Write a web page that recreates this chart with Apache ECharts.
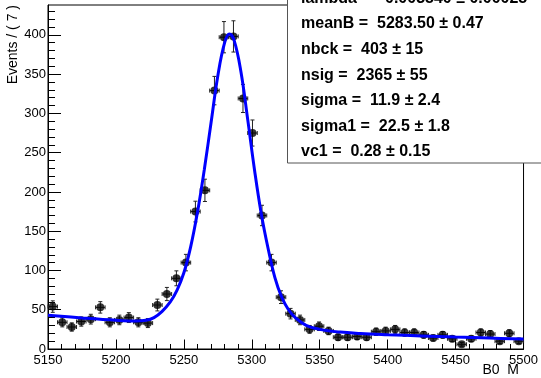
<!DOCTYPE html>
<html><head><meta charset="utf-8">
<script src="https://cdn.jsdelivr.net/npm/echarts@6/dist/echarts.min.js"></script>
<style>html,body{margin:0;padding:0;background:#fff}#c{width:541px;height:378px}</style>
</head><body><div id="c"></div>
<script>
// Bin centres (B0 M), bin width 7
const binCenters = [5153.5, 5160.5, 5167.5, 5174.5, 5181.5, 5188.5, 5195.5, 5202.5, 5209.5, 5216.5,
  5223.5, 5230.5, 5237.5, 5244.5, 5251.5, 5258.5, 5265.5, 5272.5, 5279.5, 5286.5,
  5293.5, 5300.5, 5307.5, 5314.5, 5321.5, 5328.5, 5335.5, 5342.5, 5349.5, 5356.5,
  5363.5, 5370.5, 5377.5, 5384.5, 5391.5, 5398.5, 5405.5, 5412.5, 5419.5, 5426.5,
  5433.5, 5440.5, 5447.5, 5454.5, 5461.5, 5468.5, 5475.5, 5482.5, 5489.5, 5496.5];
const counts = [54, 34, 28, 35, 38, 53, 34, 37, 40, 34,
  33, 56, 70, 90, 110, 175, 202, 329, 397, 398,
  319, 275, 170, 110, 66, 45, 37, 25, 29, 23,
  15, 15, 16, 15, 22, 23, 25, 21, 21, 18,
  14, 18, 13, 6, 13, 21, 19, 10, 20, 10];
const errors = [7.3, 5.8, 5.3, 5.9, 6.2, 7.3, 5.8, 6.1, 6.3, 5.8,
  5.7, 7.5, 8.4, 9.5, 10.5, 13.2, 14.2, 18.1, 19.9, 19.9,
  17.9, 16.6, 13.0, 10.5, 8.1, 6.7, 6.1, 5.0, 5.4, 4.8,
  3.9, 3.9, 4.0, 3.9, 4.7, 4.8, 5.0, 4.6, 4.6, 4.2,
  3.7, 4.2, 3.6, 2.4, 3.6, 4.6, 4.4, 3.2, 4.5, 3.2];
const binHalfWidth = 3.5;

// Fit curve
const curveX = [5150, 5175, 5200, 5215, 5222, 5228, 5234, 5240, 5245, 5250, 5255, 5260, 5265, 5270, 5275, 5280, 5283.5,
  5287, 5292, 5297, 5302, 5307, 5312, 5317, 5322, 5327, 5332, 5340, 5350, 5365, 5380, 5400, 5425, 5450, 5475, 5500];
const curveY = [43, 39.5, 36.5, 35.5, 36.5, 40, 48, 60, 75, 97, 130, 174, 228, 288, 348, 390, 401,
  393, 353, 292, 228, 172, 128, 91, 66, 50, 40, 30, 25, 21.5, 19.8, 18.3, 16.7, 15.2, 13.9, 12.6];

const xTicks = [5150, 5200, 5250, 5300, 5350, 5400, 5450, 5500];
const yTicks = [0, 50, 100, 150, 200, 250, 300, 350, 400];

const statLines = [
  'lambda =  -0.003540 \u00b1 0.00025',
  'meanB =  5283.50 \u00b1 0.47',
  'nbck =  403 \u00b1 15',
  'nsig =  2365 \u00b1 55',
  'sigma =  11.9 \u00b1 2.4',
  'sigma1 =  22.5 \u00b1 1.8',
  'vc1 =  0.28 \u00b1 0.15'
];

const FONT = '"Liberation Sans", Arial, Helvetica, sans-serif';
const pointData = binCenters.map((x, i) => [x, counts[i], errors[i]]);
const curveData = curveX.map((x, i) => [x, curveY[i]]);

const chart = echarts.init(document.getElementById('c'), null, {renderer: 'canvas'});

const statGraphics = [{
  type: 'rect', z: 100,
  shape: {x: 287.5, y: -40, width: 300, height: 203},
  style: {fill: '#fff', stroke: '#555', lineWidth: 1}
}];
statLines.forEach((t, i) => {
  statGraphics.push({
    type: 'text', z: 101, x: 301, y: -1.6 + i * 25.6,
    style: {text: t, fill: '#000', font: 'bold 16px ' + FONT, textAlign: 'left', textVerticalAlign: 'middle'}
  });
});

chart.setOption({
  animation: false,
  backgroundColor: '#fff',
  grid: {left: 48, right: 16, top: 5, bottom: 29, show: true, borderColor: '#000', borderWidth: 1, containLabel: false},
  xAxis: {
    type: 'value', min: 5150, max: 5500, interval: 50,
    axisLine: {show: true, lineStyle: {color: '#000', width: 1}},
    axisTick: {show: true, inside: true, length: 9.5, lineStyle: {color: '#000'}, customValues: xTicks},
    minorTick: {show: true, splitNumber: 5, length: 5, lineStyle: {color: '#000'}},
    axisLabel: {color: '#000', fontSize: 13, fontFamily: FONT, margin: 5, customValues: xTicks,
      formatter: v => String(v)},
    splitLine: {show: false}, minorSplitLine: {show: false}
  },
  yAxis: {
    type: 'value', min: 0, max: 438, interval: 50,
    axisLine: {show: true, lineStyle: {color: '#000', width: 1}},
    axisTick: {show: true, inside: true, length: 13, lineStyle: {color: '#000'}, customValues: yTicks},
    minorTick: {show: true, splitNumber: 5, length: 7, lineStyle: {color: '#000'}},
    axisLabel: {color: '#000', fontSize: 13, fontFamily: FONT, margin: 2, customValues: yTicks,
      formatter: v => String(v)},
    splitLine: {show: false}, minorSplitLine: {show: false}
  },
  series: [
    {
      type: 'custom', z: 2,
      data: pointData,
      encode: {x: 0, y: 1},
      renderItem: function (params, api) {
        const x = api.value(0), y = api.value(1), e = api.value(2);
        const c = api.coord([x, y]);
        const top = api.coord([x, y + e]);
        const bot = api.coord([x, Math.max(0, y - e)]);
        const l = api.coord([x - binHalfWidth, y]);
        const r = api.coord([x + binHalfWidth, y]);
        const cap = 2;
        const st = {stroke: '#222', lineWidth: 1};
        return {type: 'group', children: [
          {type: 'line', shape: {x1: c[0], y1: top[1], x2: c[0], y2: bot[1]}, style: st},
          {type: 'line', shape: {x1: c[0] - cap, y1: top[1], x2: c[0] + cap, y2: top[1]}, style: st},
          {type: 'line', shape: {x1: c[0] - cap, y1: bot[1], x2: c[0] + cap, y2: bot[1]}, style: st},
          {type: 'line', shape: {x1: l[0], y1: c[1], x2: r[0], y2: c[1]}, style: st},
          {type: 'line', shape: {x1: l[0], y1: c[1] - cap, x2: l[0], y2: c[1] + cap}, style: st},
          {type: 'line', shape: {x1: r[0], y1: c[1] - cap, x2: r[0], y2: c[1] + cap}, style: st}
        ]};
      }
    },
    {
      type: 'scatter', z: 3, symbol: 'circle', symbolSize: 8,
      itemStyle: {color: '#000'},
      data: pointData.map(p => [p[0], p[1]])
    },
    {
      type: 'line', z: 4, smooth: 0.4, showSymbol: false, symbol: 'none',
      lineStyle: {color: '#0000ff', width: 3},
      data: curveData
    }
  ],
  graphic: [
    {type: 'text', x: 13, y: 5, rotation: Math.PI / 2,
      style: {text: 'Events / ( 7 )', fill: '#000', font: '14px ' + FONT, textAlign: 'right', textVerticalAlign: 'middle'}},
    {type: 'text', x: 519, y: 370,
      style: {text: 'B0  M', fill: '#000', font: '14px ' + FONT, textAlign: 'right', textVerticalAlign: 'middle'}}
  ].concat(statGraphics)
});
</script>
</body></html>
